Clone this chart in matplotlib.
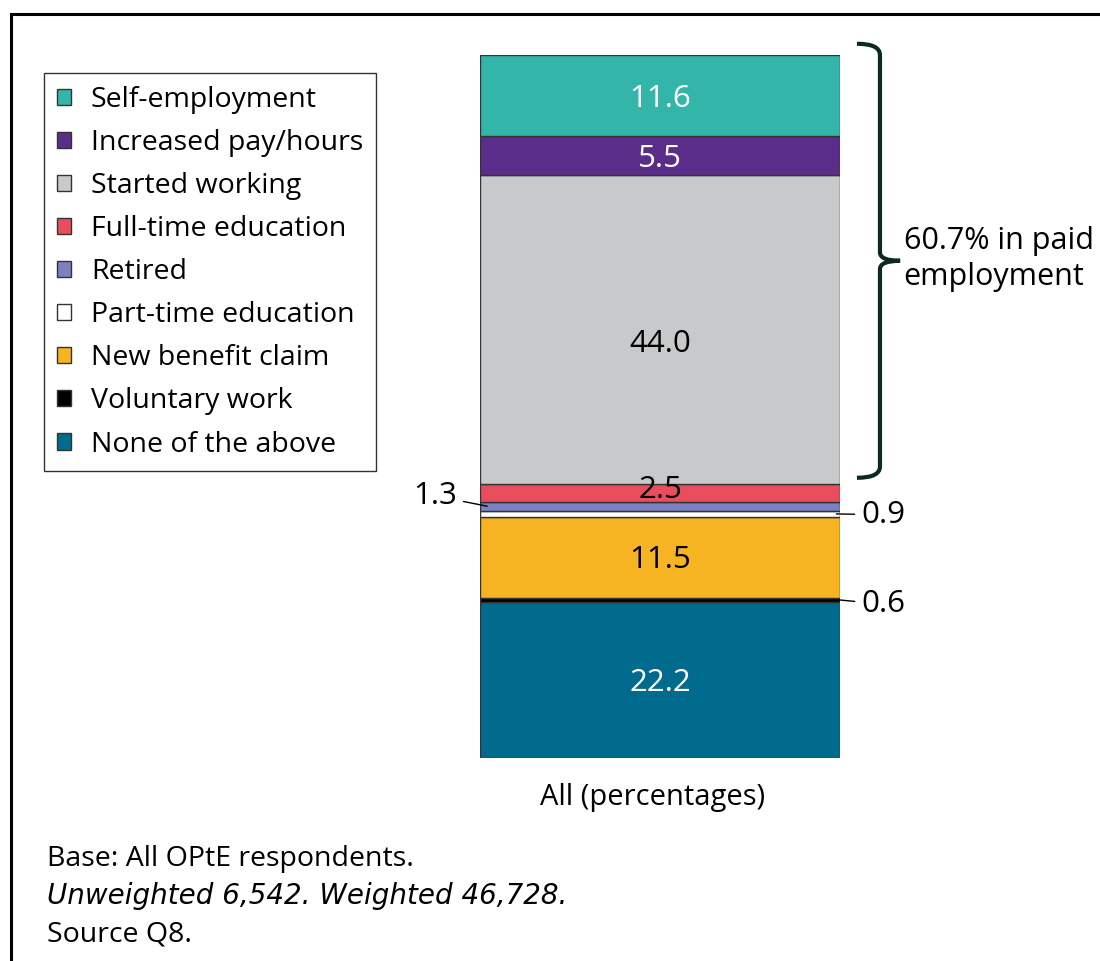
import matplotlib
matplotlib.use("Agg")
import matplotlib.pyplot as plt
from matplotlib.patches import Rectangle, Patch, PathPatch
from matplotlib.path import Path
import matplotlib.transforms as mtrans

plt.rcParams['font.family'] = ['Open Sans', 'DejaVu Sans']

# Data (bottom to top)
categories = ["None of the above", "Voluntary work", "New benefit claim",
              "Part-time education", "Retired", "Full-time education",
              "Started working", "Increased pay/hours", "Self-employment"]
values = [22.2, 0.6, 11.5, 0.9, 1.3, 2.5, 44.0, 5.5, 11.6]
colors = ["#006B8C", "#000000", "#F6B322", "#FFFFFF", "#7B80BE",
          "#E84E5E", "#C8C9CB", "#5A2D8A", "#33B5A9"]
label_colors = ["white", "black", "black", "black", "black", "black",
                "black", "white", "white"]
bar_label = "All (percentages)"
bracket_text = "60.7% in paid\nemployment"
footer = ["Base: All OPtE respondents.",
          "Unweighted 6,542. Weighted 46,728.",
          "Source Q8."]

W, H = 1100, 961
fig = plt.figure(figsize=(W / 100, H / 100), dpi=100)

# outer frame (extends past right/bottom edges)
fig.patches.append(Rectangle((11 / W, -0.1), 1.2, (961 - 14) / H + 0.1,
                             transform=fig.transFigure, fill=False,
                             edgecolor="black", linewidth=2.2))

total = sum(values)
ax = fig.add_axes([480 / W, (961 - 758) / H, 360 / W, 703 / H])
ax.set_xlim(-0.5, 0.5)
ax.set_ylim(0, total)
ax.axis("off")

bottoms = []
b = 0
for cat, v, c in zip(categories, values, colors):
    ax.bar(0, v, bottom=b, width=1.0, color=c, edgecolor="#333333",
           linewidth=1.0)
    bottoms.append(b)
    b += v

fs = 20.5    # text
fsn = 22.5   # numbers
shift = mtrans.offset_copy(ax.transData, fig=fig, x=0, y=-2, units="points")
inside = {"None of the above", "New benefit claim", "Started working",
          "Increased pay/hours", "Self-employment", "Full-time education"}
for cat, v, bt, lc in zip(categories, values, bottoms, label_colors):
    yc = bt + v / 2
    if cat in inside:
        dy = 0.0
        if cat == "Full-time education":
            dy = 0.8
        elif cat == "Started working":
            dy = -1.6
        ax.text(0, yc + dy, f"{v:.1f}", ha="center", va="center",
                fontsize=fsn, color=lc, transform=shift)

# leader-line labels
idx = {c: i for i, c in enumerate(categories)}
def yc_of(cat):
    i = idx[cat]
    return bottoms[i] + values[i] / 2

yr = yc_of("Retired")
ax.annotate(f"{values[idx['Retired']]:.1f}", xy=(-0.48, yr),
            xytext=(-0.565, yr + 1.5), ha="right", va="center", fontsize=fsn,
            arrowprops=dict(arrowstyle="-", color="black", lw=1.0,
                            shrinkA=3, shrinkB=0))
yp = yc_of("Part-time education")
ax.annotate(f"{values[idx['Part-time education']]:.1f}", xy=(0.49, yp),
            xytext=(0.56, yp - 0.1), ha="left", va="center", fontsize=fsn,
            arrowprops=dict(arrowstyle="-", color="black", lw=1.0,
                            shrinkA=3, shrinkB=0))
yv = yc_of("Voluntary work")
ax.annotate(f"{values[idx['Voluntary work']]:.1f}", xy=(0.5, yv),
            xytext=(0.56, yv - 0.6), ha="left", va="center", fontsize=fsn,
            arrowprops=dict(arrowstyle="-", color="black", lw=1.0,
                            shrinkA=3, shrinkB=0))

# bar category label
ax.text(-0.02, -5.3, bar_label, ha="center", va="center", fontsize=21,
        clip_on=False, transform=shift)

# curly bracket
ytop = total + 1.6
ybot = bottoms[idx["Started working"]] + 0.9
ymid = (ytop + ybot) / 2
x0, x1, x2 = 0.547, 0.611, 0.667
r = 1.6
r2 = 1.2
verts = [(x0, ytop), (x1, ytop), (x1, ytop - r),
         (x1, ymid + r2),
         (x1, ymid), (x2, ymid),
         (x1, ymid), (x1, ymid - r2),
         (x1, ybot + r),
         (x1, ybot), (x0, ybot)]
codes = [Path.MOVETO, Path.CURVE3, Path.CURVE3,
         Path.LINETO,
         Path.CURVE3, Path.CURVE3,
         Path.CURVE3, Path.CURVE3,
         Path.LINETO,
         Path.CURVE3, Path.CURVE3]
ax.add_patch(PathPatch(Path(verts, codes), fill=False, edgecolor="#0D2A1E",
                       linewidth=3, clip_on=False, capstyle="butt"))
ax.text(x2 + 0.01, ymid + 0.3, bracket_text, ha="left", va="center",
        fontsize=22, linespacing=1.25, clip_on=False)

# legend (top to bottom)
order = categories[::-1]
leg = fig.legend([Patch(facecolor=colors[idx[c]], edgecolor="#333333",
                        linewidth=1.0) for c in order], order,
                 loc="upper left", bbox_to_anchor=(44 / W, 1 - 73 / H),
                 bbox_transform=fig.transFigure, fontsize=fs,
                 frameon=True, fancybox=False, edgecolor="black",
                 handlelength=0.5, handleheight=0.5, handletextpad=0.7,
                 labelspacing=0.53, borderpad=0.45, borderaxespad=0)
leg.get_frame().set_linewidth(1.0)

# footer
styles = ["normal", "italic", "normal"]
fams = [['Open Sans'], ['DejaVu Sans'], ['Open Sans']]
sizes = [20.5, 20, 20.5]
for i, (t, s) in enumerate(zip(footer, styles)):
    fig.text(47 / W, 1 - (859 + 37.5 * i) / H, t, ha="left", va="center",
             fontsize=sizes[i], style=s, family=fams[i])

fig.savefig("out.png", dpi=100)
